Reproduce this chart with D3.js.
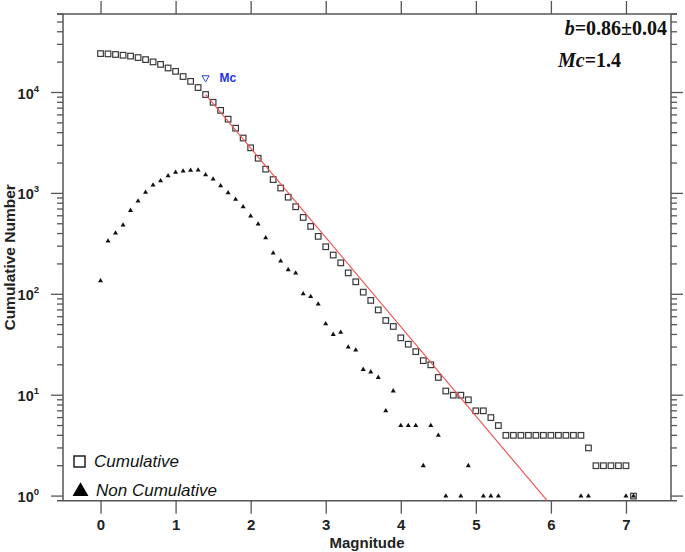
<!DOCTYPE html>
<html><head><meta charset="utf-8">
<script src="https://cdn.jsdelivr.net/npm/d3@7"></script>
<style>body{margin:0;background:#fff}svg{display:block}</style>
</head><body><svg id="c" width="685" height="552"></svg>
<script>
// ---- data ----
const magnitudes = [0.0,0.1,0.2,0.3,0.4,0.5,0.6,0.7,0.8,0.9,1.0,1.1,1.2,1.3,1.4,1.5,1.6,1.7,1.8,1.9,
  2.0,2.1,2.2,2.3,2.4,2.5,2.6,2.7,2.8,2.9,3.0,3.1,3.2,3.3,3.4,3.5,3.6,3.7,3.8,3.9,
  4.0,4.1,4.2,4.3,4.4,4.5,4.6,4.7,4.8,4.9,5.0,5.1,5.2,5.3,5.4,5.5,5.6,5.7,5.8,5.9,
  6.0,6.1,6.2,6.3,6.4,6.5,6.6,6.7,6.8,6.9,7.0,7.1];
const cumulative = [24300,24150,23800,23400,22950,22200,21200,20100,19000,17500,16200,14400,12900,11200,9550,8000,6650,5440,4430,3540,
  2830,2230,1740,1370,1130,917,737,578,471,375,296,245,205,163,133,105,87,70,55,48,
  37,32,27,22,20,15,11,10,10,9,7,7,6,5,4,4,4,4,4,4,
  4,4,4,4,4,3,2,2,2,2,2,1];
const nonCumMags = [0.0,0.1,0.2,0.3,0.4,0.5,0.6,0.7,0.8,0.9,1.0,1.1,1.2,1.3,1.4,1.5,1.6,1.7,1.8,1.9,
  2.0,2.1,2.2,2.3,2.4,2.5,2.6,2.7,2.8,2.9,3.0,3.1,3.2,3.3,3.4,3.5,3.6,3.7,3.8,3.9,
  4.0,4.1,4.2,4.3,4.4,4.5,4.6,4.8,4.9,5.1,5.2,5.3,6.4,6.5,7.0,7.1];
const nonCumulative = [136,337,404,485,678,839,1023,1208,1333,1494,1615,1663,1690,1702,1529,1386,1189,1014,873,736,
  596,497,363,256,213,175,162,101,95,80,51,40,42,30,28,18,17,15,7,11,
  5,5,5,2,5,4,1,1,2,1,1,1,1,1,1,1];
const fitMags = [1.4, 5.95];
const fitN = [9550, 0.9];
const mcValue = 1.4;
const mcMarkerN = 14000;
const xTicks = [0,1,2,3,4,5,6,7];
const yMajorExp = [0,1,2,3,4];
const xDomain = [-0.5, 7.6];
const yDomain = [0.9, 60000];
const annotB = "0.86±0.04";
const annotMc = "1.4";
const legendLabels = ["Cumulative", "Non Cumulative"];

// ---- layout ----
const L = 63, R = 671, T = 14, B = 500.7;
const svg = d3.select("#c");
const x = d3.scaleLinear().domain(xDomain).range([L, R]);
const y = d3.scaleLog().domain(yDomain).range([B, T]);
const axisCol = "#555";

// minor ticks list
const yMinor = [];
for (let e = 0; e <= 4; e++) for (let k = 2; k <= 9; k++) { const v = k * Math.pow(10, e); if (v <= yDomain[1]) yMinor.push(v); }

// x axes (bottom & top)
const xb = svg.append("g").attr("transform", `translate(0,${B})`)
  .call(d3.axisBottom(x).tickValues(xTicks).tickSize(13).tickSizeOuter(0).tickPadding(4).tickFormat(d3.format("d")));
const xt = svg.append("g").attr("transform", `translate(0,${T})`)
  .call(d3.axisTop(x).tickValues(xTicks).tickSize(13).tickSizeOuter(0).tickFormat(""));
[xb, xt].forEach(g => { g.select(".domain").remove(); g.selectAll("line").attr("stroke", axisCol).attr("stroke-width", 1.3); });
xb.selectAll("text").attr("font-family", "Liberation Sans, Arial, sans-serif").attr("font-weight", "bold")
  .attr("font-size", 15).attr("fill", "#222").attr("dy", "0.85em");

// y axes (left & right)
function yAxisGroup(side) {
  const g = svg.append("g");
  const dir = side === "left" ? -1 : 1;
  const x0 = side === "left" ? L : R;
  g.selectAll("line.maj").data(yMajorExp).join("line")
    .attr("x1", x0).attr("x2", x0 + dir * 12)
    .attr("y1", d => y(Math.pow(10, d))).attr("y2", d => y(Math.pow(10, d)))
    .attr("stroke", axisCol).attr("stroke-width", 1.3);
  g.selectAll("line.min").data(yMinor).join("line")
    .attr("x1", x0).attr("x2", x0 + dir * 6)
    .attr("y1", d => y(d)).attr("y2", d => y(d))
    .attr("stroke", axisCol).attr("stroke-width", 1.3);
  return g;
}
yAxisGroup("left"); yAxisGroup("right");

// frame
svg.append("line").attr("x1", L).attr("x2", L).attr("y1", T).attr("y2", B).attr("stroke", axisCol).attr("stroke-width", 1.5);
svg.append("line").attr("x1", R).attr("x2", R).attr("y1", T).attr("y2", B).attr("stroke", axisCol).attr("stroke-width", 1.5);
svg.append("line").attr("x1", L - 6).attr("x2", R + 6).attr("y1", T).attr("y2", T).attr("stroke", axisCol).attr("stroke-width", 1.5);
svg.append("line").attr("x1", L - 6).attr("x2", R + 6).attr("y1", B).attr("y2", B).attr("stroke", axisCol).attr("stroke-width", 1.5);

// y labels 10^n
const yl = svg.append("g").attr("font-family", "Liberation Sans, Arial, sans-serif").attr("font-weight", "bold").attr("fill", "#222");
yMajorExp.forEach(e => {
  const t = yl.append("text").attr("x", 39).attr("y", y(Math.pow(10, e)) + 6).attr("text-anchor", "end").attr("font-size", 14.5);
  t.append("tspan").text("10");
  t.append("tspan").attr("font-size", 9.5).attr("dy", -7).text(String(e));
});

// axis titles
svg.append("text").attr("x", (L + R) / 2).attr("y", 547.5).attr("text-anchor", "middle")
  .attr("font-family", "Liberation Sans, Arial, sans-serif").attr("font-weight", "bold").attr("font-size", 15).attr("fill", "#222")
  .text("Magnitude");
svg.append("text").attr("transform", `translate(15,${(T + B) / 2}) rotate(-90)`).attr("text-anchor", "middle")
  .attr("font-family", "Liberation Sans, Arial, sans-serif").attr("font-weight", "bold").attr("font-size", 15.5).attr("fill", "#222")
  .text("Cumulative Number");

// cumulative squares
const sq = 5.6;
svg.append("g").selectAll("rect").data(magnitudes.map((m, i) => [m, cumulative[i]])).join("rect")
  .attr("x", d => x(d[0]) - sq / 2).attr("y", d => y(d[1]) - sq / 2).attr("width", sq).attr("height", sq)
  .attr("fill", "none").attr("stroke", "#3a3a3a").attr("stroke-width", 1.2);

// fit line
svg.append("path").datum(fitMags.map((m, i) => [m, fitN[i]]))
  .attr("d", d3.line().x(d => x(d[0])).y(d => y(d[1])))
  .attr("stroke", "#f05050").attr("stroke-width", 1.1).attr("fill", "none");

// non-cumulative triangles
const tri = d3.symbol().type(d3.symbolTriangle).size(11);
svg.append("g").selectAll("path").data(nonCumMags.map((m, i) => [m, nonCumulative[i]])).join("path")
  .attr("transform", d => `translate(${x(d[0])},${y(d[1])})`).attr("d", tri).attr("fill", "#111");

// Mc marker
svg.append("path").attr("transform", `translate(${x(mcValue)},${y(mcMarkerN)}) rotate(180)`)
  .attr("d", d3.symbol().type(d3.symbolTriangle).size(22)).attr("fill", "none").attr("stroke", "#3344ee").attr("stroke-width", 1);
svg.append("text").attr("x", x(mcValue) + 14).attr("y", y(mcMarkerN) + 4.5)
  .attr("font-family", "Liberation Sans, Arial, sans-serif").attr("font-weight", "bold").attr("font-size", 12).attr("fill", "#2233ee")
  .text("Mc");

// annotation
const an = svg.append("g").attr("font-family", "Liberation Serif, Times New Roman, serif").attr("font-weight", "bold").attr("fill", "#111").attr("font-size", 20);
const a1 = an.append("text").attr("x", 667).attr("y", 35).attr("text-anchor", "end");
a1.append("tspan").attr("font-style", "italic").text("b");
a1.append("tspan").text("=" + annotB);
const a2 = an.append("text").attr("x", 558).attr("y", 67);
a2.append("tspan").attr("font-style", "italic").text("Mc");
a2.append("tspan").text("=" + annotMc);

// legend
const lg = svg.append("g").attr("font-family", "Liberation Sans, Arial, sans-serif").attr("font-style", "italic").attr("font-size", 17).attr("fill", "#111");
lg.append("rect").attr("x", 74).attr("y", 456).attr("width", 11).attr("height", 11).attr("fill", "none").attr("stroke", "#111").attr("stroke-width", 1.4);
lg.append("text").attr("x", 94).attr("y", 467).text(legendLabels[0]);
lg.append("path").attr("transform", "translate(80.5,491.5)").attr("d", d3.symbol().type(d3.symbolTriangle).size(110)).attr("fill", "#000");
lg.append("text").attr("x", 96).attr("y", 496).text(legendLabels[1]);
</script></body></html>
